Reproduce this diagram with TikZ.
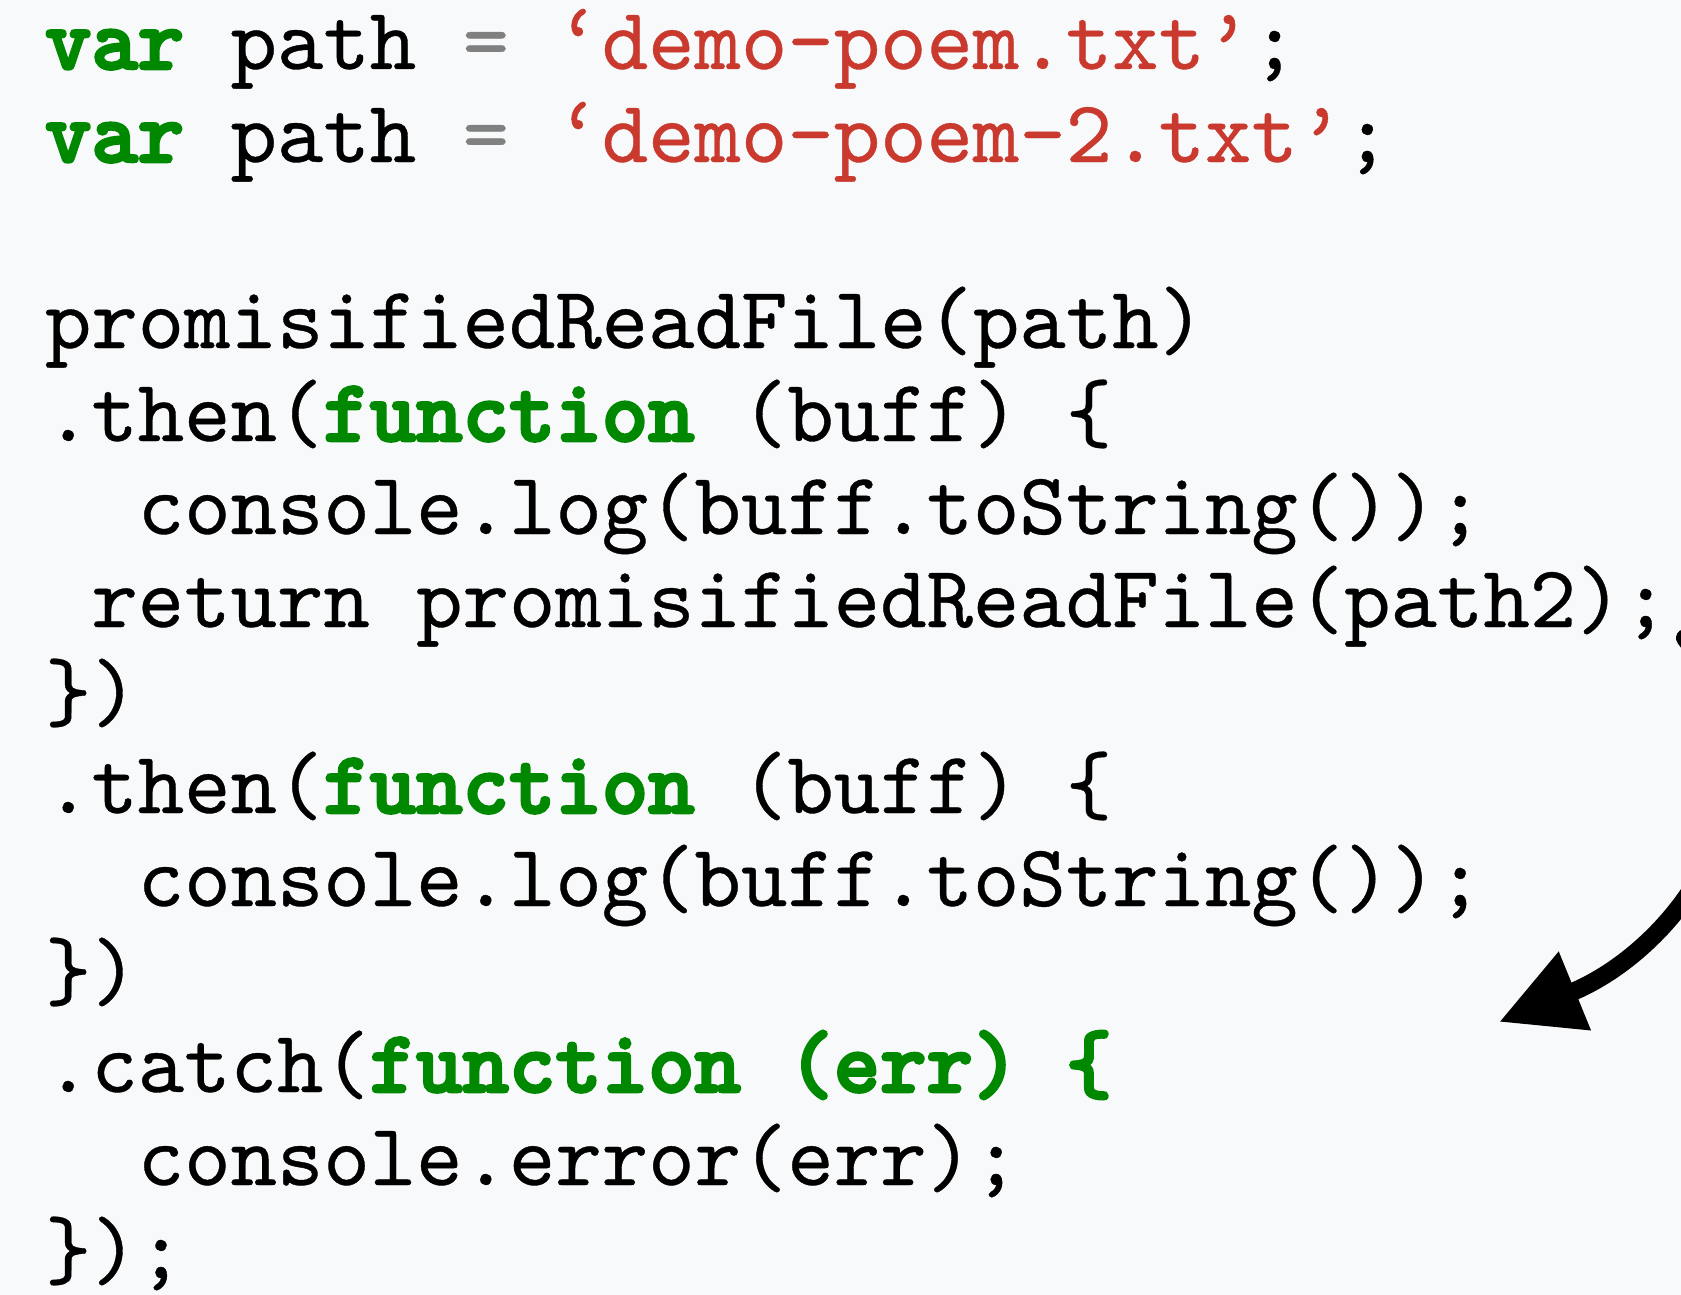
\documentclass[tikz,border=0pt]{standalone}
\usepackage{fontspec}
\usetikzlibrary{arrows.meta}
% typewriter faces: Latin Modern Mono, regular slightly thickened, keywords heavy
\newfontfamily\codefont{lmmono10-regular.otf}[FakeBold=0.4]
\newfontfamily\kwfont{lmmonolt10-bold.otf}[FakeBold=3]
\definecolor{pagebg}{RGB}{248,249,251}
\definecolor{kwgreen}{RGB}{0,136,0}
\definecolor{strred}{RGB}{201,57,46}
\definecolor{opgray}{RGB}{128,128,128}
\newcommand\kwd[1]{{\kwfont\color{kwgreen}#1}}
\newcommand\strg[1]{{\color{strred}#1}}
\newcommand\opr[1]{{\color{opgray}#1}}
\begin{document}
\begin{tikzpicture}[x=1pt,y=-1pt,
  code/.style={anchor=base west, inner sep=0pt, outer sep=0pt,
    font=\codefont\fontsize{88.38}{93}\selectfont},
  flow/.style={line width=18pt, line cap=round, -{Triangle[length=82pt,width=80pt]}}]
  % canvas
  \fill[pagebg] (0,0) rectangle (1681,1295);
  \useasboundingbox (0,0) rectangle (1681,1295);
  \clip (0,0) rectangle (1681,1295);
  % code listing: column width 46.4, line pitch 93
  \node[code] (l1)  at (45,69)    {\kwd{var} path \opr{=} \strg{‘demo-poem.txt’};};
  \node[code] (l2)  at (45,162)   {\kwd{var} path \opr{=} \strg{‘demo-poem-2.txt’};};
  \node[code] (l4)  at (45,348)   {promisifiedReadFile(path)};
  \node[code] (l5)  at (45,441)   {.then(\kwd{function} (buff) \{};
  \node[code] (l6)  at (137.8,534) {console.log(buff.toString());};
  \node[code] (l7)  at (91.4,627) {return promisifiedReadFile(path2);};
  \node[code] (l8)  at (45,720)   {\})};
  \node[code] (l9)  at (45,813)   {.then(\kwd{function} (buff) \{};
  \node[code] (l10) at (137.8,906) {console.log(buff.toString());};
  \node[code] (l11) at (45,999)   {\})};
  \node[code] (l12) at (45,1092)  {.catch(\kwd{function (err) \{}};
  \node[code] (l13) at (137.8,1185) {console.error(err);};
  \node[code] (l14) at (45,1278)  {\});};
  % arrow leaving the return line and landing before the catch
  \coordinate (arrowstart) at (1685,638);
  \coordinate (arrowend) at (1499,1022);
  \draw[flow] (arrowstart) .. controls (1800,790) and (1675,950) .. (arrowend);
\end{tikzpicture}
\end{document}
